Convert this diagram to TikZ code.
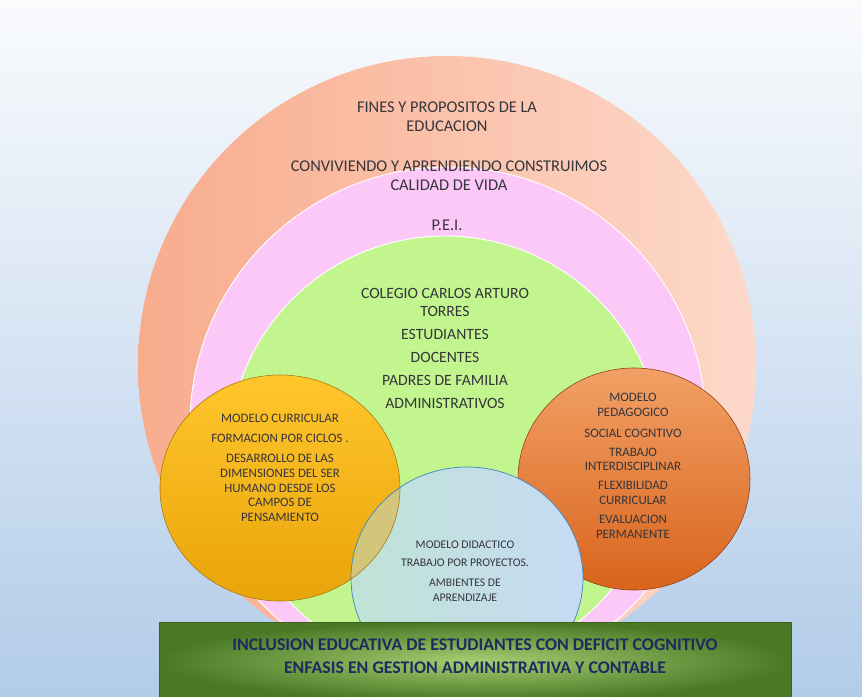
\documentclass[tikz,border=0pt]{standalone}
\usepackage{fontspec}
\setmainfont{Carlito}
\usepackage{tikz}

\definecolor{bgtop}{HTML}{FAFBFD}
\definecolor{bgbot}{HTML}{B2CCE9}
\definecolor{salmonL}{HTML}{F8AC8D}
\definecolor{salmonR}{HTML}{FDD9CA}
\definecolor{pinkring}{HTML}{FCC8F8}
\definecolor{greenring}{HTML}{C2F58E}
\definecolor{yelT}{HTML}{FFC62C}
\definecolor{yelB}{HTML}{E9A40A}
\definecolor{yelD}{HTML}{A87A10}
\definecolor{orgT}{HTML}{F2A066}
\definecolor{orgB}{HTML}{D9641C}
\definecolor{orgD}{HTML}{8E4316}
\definecolor{bluL}{HTML}{C0E3D6}
\definecolor{bluR}{HTML}{C6DAF4}
\definecolor{bluD}{HTML}{3D85B8}
\definecolor{banIn}{HTML}{A6CE72}
\definecolor{banOut}{HTML}{4A7926}
\definecolor{txtgray}{HTML}{35353B}
\definecolor{navy}{HTML}{1E2B5E}

\begin{document}
\begin{tikzpicture}[x=0.03cm,y=-0.03cm]
            \tikzstyle{lbl}=[align=center,text=txtgray,font=\fontsize{14}{16.2}\selectfont]
            \tikzstyle{small}=[align=center,text=txtgray,font=\fontsize{11}{12.6}\selectfont]
            \tikzstyle{banner}=[align=center,text=navy,font=\bfseries\fontsize{15.2}{19.5}\selectfont]

                \useasboundingbox (0,0) rectangle (862,697);
                \shade[top color=bgtop,bottom color=bgbot] (0,0) rectangle (862,697);

                % anillos
                \shade[left color=salmonL,right color=salmonR] (447,365) circle (309);
                \filldraw[fill=pinkring,draw=white,line width=0.8pt] (448,425) circle (258);
                \filldraw[fill=greenring,draw=white,line width=0.8pt] (445,452) circle (216);

                % modelos
                \shadedraw[top color=yelT,bottom color=yelB,draw=yelD,line width=0.5pt] (280,488) ellipse (120 and 113);
                \shadedraw[top color=orgT,bottom color=orgB,draw=orgD,line width=0.5pt] (634,479) ellipse (116 and 111);
                \shade[left color=bluL,right color=bluR] (467,578) ellipse (116 and 111);
                \begin{scope}
                    \clip (467,578) ellipse (116 and 111);
                    \fill[yelB,opacity=0.45] (280,488) ellipse (120 and 113);
                    \draw[yelD,line width=0.5pt] (280,488) ellipse (120 and 113);
                \end{scope}
                \draw[bluD,line width=0.6pt] (467,578) ellipse (116 and 111);

                % franja inferior
                \shadedraw[inner color=banIn,outer color=banOut,draw=banOut!80!black,line width=0.4pt] (159,622) rectangle (791,700);

                \node[lbl] (T-1) at (447,116.5) {FINES Y PROPOSITOS DE LA\\EDUCACION};
                \node[lbl] (T-2) at (449,175.5) {CONVIVIENDO Y APRENDIENDO CONSTRUIMOS\\CALIDAD DE VIDA};
                \node[lbl] (T-3) at (447,225) {P.E.I.};
                \node[lbl,font=\fontsize{13.4}{15.3}\selectfont] (T-4) at (445,348.5)
                    {COLEGIO CARLOS ARTURO\\TORRES\\[4.2pt]ESTUDIANTES\\[4.2pt]DOCENTES\\[4.2pt]PADRES DE FAMILIA\\[4.2pt]ADMINISTRATIVOS};
                \node[small] (T-5) at (280,468)
                    {MODELO CURRICULAR\\[4.4pt]FORMACION POR CICLOS .\\[4.4pt]DESARROLLO DE LAS\\DIMENSIONES DEL SER\\HUMANO DESDE LOS\\CAMPOS DE\\PENSAMIENTO};
                \node[small] (T-6) at (633,466)
                    {MODELO\\PEDAGOGICO\\[5pt]SOCIAL COGNTIVO\\[3.5pt]TRABAJO\\INTERDISCIPLINAR\\[3.5pt]FLEXIBILIDAD\\CURRICULAR\\[4pt]EVALUACION\\PERMANENTE};
                \node[small,font=\fontsize{10}{12.7}\selectfont] (T-7) at (465,571.5)
                    {MODELO DIDACTICO\\[2.7pt]TRABAJO POR PROYECTOS.\\[4.4pt]AMBIENTES DE\\APRENDIZAJE};
                \node[banner] (T-8) at (475,656.5)
                    {INCLUSION EDUCATIVA DE ESTUDIANTES CON DEFICIT COGNITIVO\\ENFASIS EN GESTION ADMINISTRATIVA Y CONTABLE};
        \end{tikzpicture}
\end{document}
